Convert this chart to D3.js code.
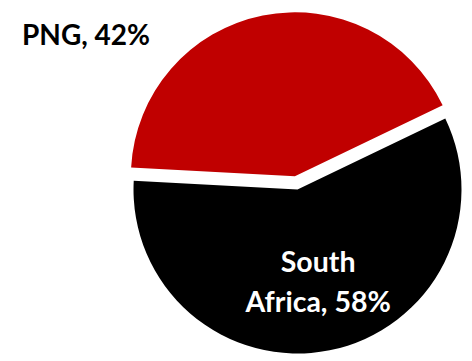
<!DOCTYPE html>
<html>
<head>
<meta charset="utf-8">
<script src="https://cdn.jsdelivr.net/npm/d3@7"></script>
<style>
  html, body { margin: 0; padding: 0; background: #fff; }
  svg { display: block; }
  text { font-family: Lato, "Open Sans", sans-serif; font-weight: 700; }
</style>
</head>
<body>
<svg id="chart" width="472" height="361"></svg>
<script>
// Data
const categories = ["PNG", "South Africa"];
const shares = [42, 58];
const labelLines = [["PNG, 42%"], ["South", "Africa, 58%"]];

const colors = ["#C00000", "#000000"];
const W = 472, H = 361;
const cx = 297.5, cy = 189.5, R = 164;
const firstSliceDeg = 273.1;
const explode = [13.4, 0];

const svg = d3.select("#chart");
const data = categories.map((c, i) => ({ name: c, value: shares[i], i }));

const start = firstSliceDeg * Math.PI / 180;
const pie = d3.pie().value(d => d.value).sort(null)
  .startAngle(start).endAngle(start + 2 * Math.PI);
const arcs = pie(data);
const arc = d3.arc().innerRadius(0).outerRadius(R);

const g = svg.append("g").attr("transform", `translate(${cx},${cy})`);

arcs.forEach((a, k) => {
  const mid = (a.startAngle + a.endAngle) / 2;
  const off = explode[k];
  const dx = off * Math.sin(mid), dy = -off * Math.cos(mid);
  const sg = g.append("g").attr("transform", `translate(${dx},${dy})`);
  sg.append("path").attr("d", arc(a)).attr("fill", colors[k]);

  if (k === 1) {
    const lr = 0.58 * R;
    const lx = lr * Math.sin(mid), ly = -lr * Math.cos(mid);
    const t = sg.append("text")
      .attr("text-anchor", "middle")
      .attr("fill", "#fff")
      .attr("font-size", 28.5);
    const lines = labelLines[k];
    const lh = 40;
    lines.forEach((ln, j) => {
      t.append("tspan").attr("x", lx + 2)
        .attr("y", ly + (j - (lines.length - 1) / 2) * lh + 9.5)
        .text(ln);
    });
  }
});

// Outside label for PNG
svg.append("text")
  .attr("x", 22).attr("y", 45)
  .attr("fill", "#000")
  .attr("font-size", 28)
  .text(labelLines[0][0]);
</script>
</body>
</html>
